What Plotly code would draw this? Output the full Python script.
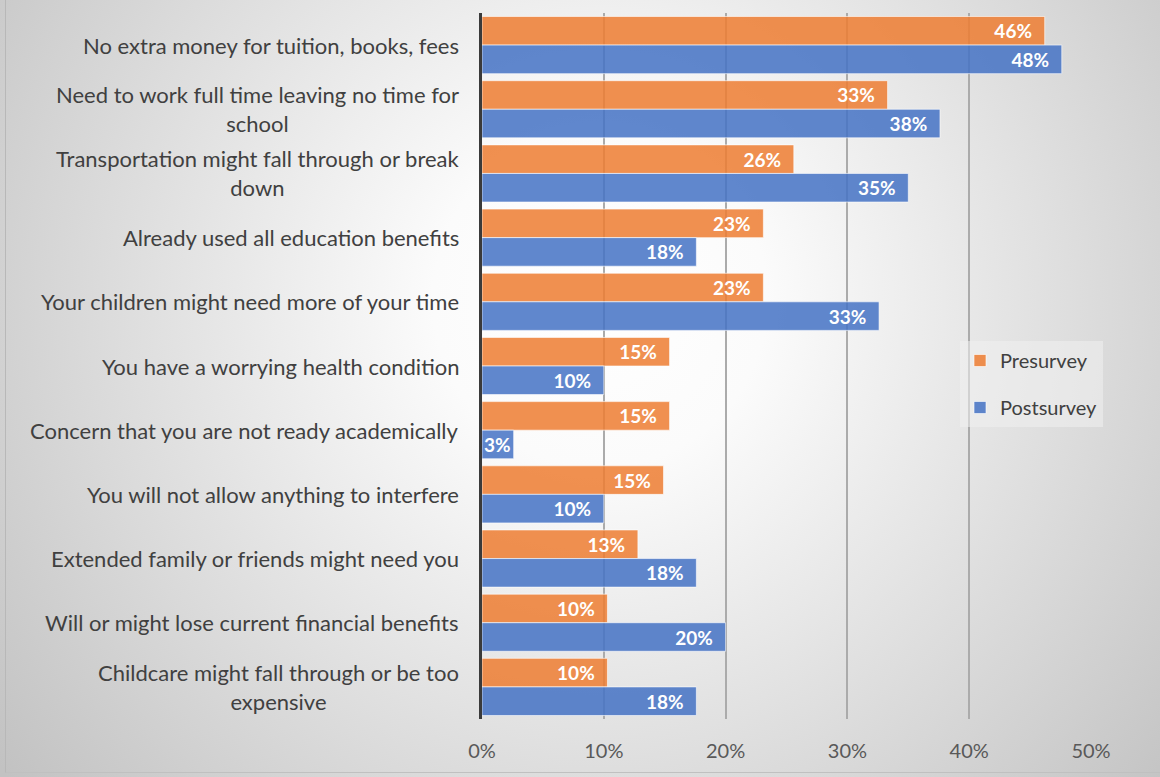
import base64
import plotly.graph_objects as go

# Barriers to continuing education, share of respondents
reasons = [
    "No extra money for tuition, books, fees",
    "Need to work full time leaving no time for<br>school",
    "Transportation might fall through or break<br>down",
    "Already used all education benefits",
    "Your children might need more of your time",
    "You have a worrying health condition",
    "Concern that you are not ready academically",
    "You will not allow anything to interfere",
    "Extended family or friends might need you",
    "Will or might lose current financial benefits",
    "Childcare might fall through or be too<br>expensive",
]
presurvey = [0.462, 0.333, 0.256, 0.231, 0.231, 0.154, 0.154, 0.149, 0.128, 0.103, 0.103]
postsurvey = [0.476, 0.376, 0.350, 0.176, 0.326, 0.100, 0.026, 0.100, 0.176, 0.200, 0.176]

x_ticks = [0, 0.1, 0.2, 0.3, 0.4, 0.5]
x_tick_labels = ["0%", "10%", "20%", "30%", "40%", "50%"]

W, H = 1160, 777
M_L, M_R, M_T, M_B = 482, 69, 13, 58
FONT = "Lato"
TEXT_GREY = "#404040"

# Soft radial backdrop for the whole chart area
svg = f"""<svg xmlns='http://www.w3.org/2000/svg' width='{W}' height='{H}' viewBox='0 0 {W} {H}'>
<defs><radialGradient id='g' gradientUnits='userSpaceOnUse' cx='600' cy='300' r='760'>
<stop offset='0' stop-color='#ffffff'/><stop offset='0.22' stop-color='#fbfbfb'/>
<stop offset='1' stop-color='#c2c2c2'/></radialGradient></defs>
<rect width='{W}' height='{H}' fill='url(#g)'/>
<line x1='5.5' y1='0' x2='5.5' y2='{H - 4}' stroke='#b8b8b8' stroke-width='1'/>
<line x1='5.5' y1='{H - 4.5}' x2='{W}' y2='{H - 4.5}' stroke='#c0c0c0' stroke-width='1'/>
</svg>"""
bg_src = "data:image/svg+xml;base64," + base64.b64encode(svg.encode()).decode()

plot_w = W - M_L - M_R
plot_h = H - M_T - M_B


def label_templates(values):
    # value labels sit inside the bar end; very short bars get no trailing pad
    return ["<b>%{x:.0%}</b>" + ("" if v < 0.05 else "\u00a0\u00a0") for v in values]


fig = go.Figure()
fig.add_trace(go.Bar(
    name="Presurvey", y=reasons, x=presurvey, orientation="h",
    marker=dict(color="rgba(237,125,49,0.85)", line=dict(color="rgba(255,255,255,0.6)", width=1)),
    texttemplate=label_templates(presurvey), textposition="inside", insidetextanchor="end",
    textfont=dict(family=FONT, size=19, color="white"),
    legendgroup="pre",
))
fig.add_trace(go.Bar(
    name="Postsurvey", y=reasons, x=postsurvey, orientation="h",
    marker=dict(color="rgba(68,114,196,0.85)", line=dict(color="rgba(255,255,255,0.6)", width=1)),
    texttemplate=label_templates(postsurvey), textposition="inside", insidetextanchor="end",
    textfont=dict(family=FONT, size=19, color="white"),
    legendgroup="post",
))

# Category labels, centred line by line and right-aligned against the axis
for r in reasons:
    fig.add_annotation(
        x=-21 / plot_w, xref="paper", y=r, yref="y",
        text=r, showarrow=False, xanchor="right", yanchor="middle", align="center",
        font=dict(family=FONT, size=22, color=TEXT_GREY),
    )

fig.update_layout(
    width=W, height=H,
    margin=dict(l=M_L, r=M_R, t=M_T, b=M_B, pad=0),
    paper_bgcolor="rgba(0,0,0,0)",
    plot_bgcolor="rgba(0,0,0,0)",
    barmode="group", bargap=0.11, bargroupgap=0.0,
    uniformtext=dict(minsize=19, mode="show"),
    font=dict(family=FONT, color=TEXT_GREY),
    images=[dict(
        source=bg_src, xref="paper", yref="paper",
        x=-M_L / plot_w, y=1 + M_T / plot_h,
        sizex=W / plot_w, sizey=H / plot_h,
        xanchor="left", yanchor="top", sizing="stretch", layer="below",
    )],
    xaxis=dict(
        range=[0, 0.5], tickvals=x_ticks, ticktext=x_tick_labels,
        showgrid=True, gridcolor="#ababab", gridwidth=1.5,
        zeroline=False, showline=False, ticks="",
        ticklabelstandoff=18,
        tickfont=dict(family=FONT, size=20, color="#595959"),
    ),
    yaxis=dict(
        autorange="reversed", showgrid=False, zeroline=False,
        showline=True, linecolor="#3a3a3a", linewidth=3,
        ticks="", showticklabels=False,
    ),
    legend=dict(
        x=(960 - M_L) / plot_w, y=(H - M_B - 341) / plot_h,
        xanchor="left", yanchor="top",
        bgcolor="rgba(240,240,240,0.55)",
        font=dict(family=FONT, size=20, color=TEXT_GREY),
        traceorder="grouped", tracegroupgap=18,
        itemwidth=30,
    ),
    showlegend=True,
)

fig.write_html("out.html")
